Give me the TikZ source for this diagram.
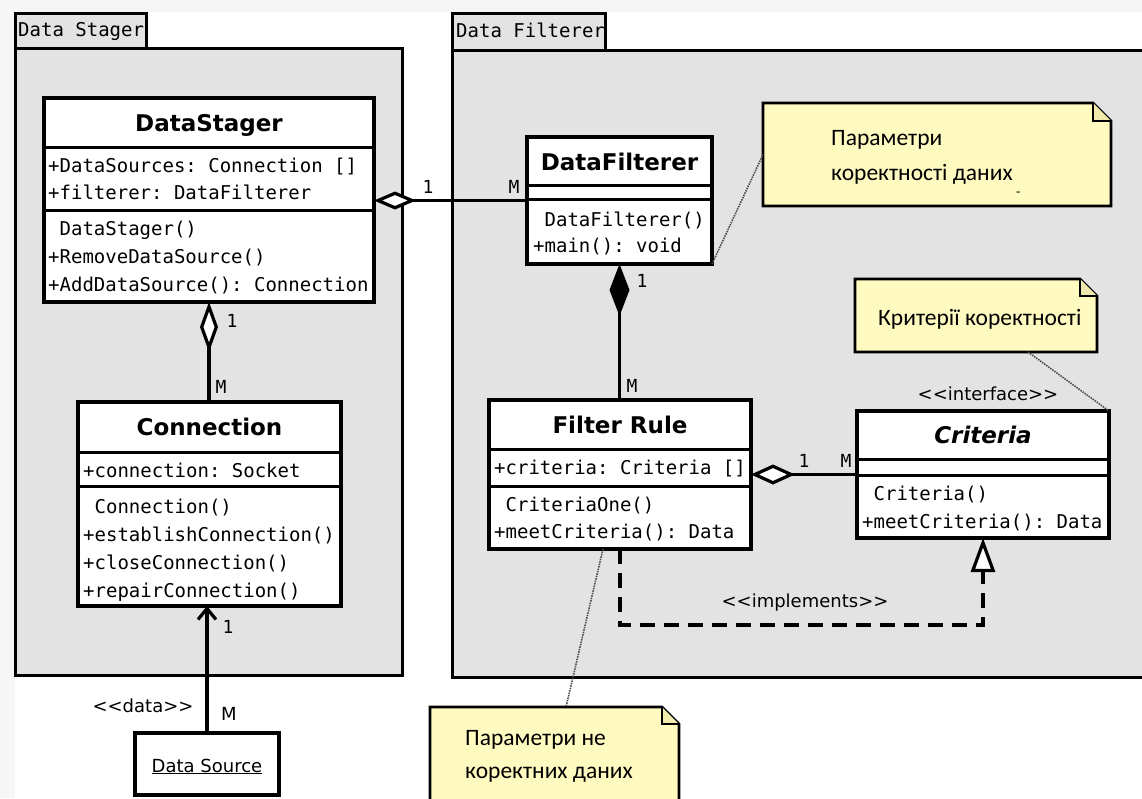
\documentclass[tikz,border=0pt]{standalone}
\usepackage{fontspec}
\setmainfont{DejaVu Sans}
\setmonofont{DejaVu Sans Mono}
\newfontfamily\dvsans{DejaVu Sans}
\newfontfamily\notefont{Carlito}
\usetikzlibrary{arrows.meta}

\definecolor{pkgfill}{RGB}{227,227,227}
\definecolor{notefill}{RGB}{255,250,192}
\definecolor{notefold}{RGB}{240,234,172}
\definecolor{edgegray}{RGB}{246,246,246}

\tikzset{
  pkg/.style={draw=black, line width=3pt, fill=pkgfill, inner sep=0pt, outer sep=0pt},
  classbox/.style={draw=black, line width=3.2pt, fill=white, inner sep=0pt, outer sep=0pt},
  sepline/.style={line width=3pt},
  cname/.style={font=\fontsize{23}{23}\selectfont\bfseries, anchor=base, inner sep=0pt},
  member/.style={font=\fontsize{19}{19}\selectfont\ttfamily, anchor=base west, inner sep=0pt},
  pkglabel/.style={font=\fontsize{19}{19}\selectfont\ttfamily, anchor=base west, inner sep=0pt},
  mult/.style={font=\fontsize{18}{18}\selectfont\ttfamily, anchor=base, inner sep=0pt},
  stereo/.style={font=\dvsans\fontsize{18}{18}\selectfont, anchor=base, inner sep=0pt},
  link/.style={line width=3.2pt},
  notebox/.style={inner sep=0pt, outer sep=0pt},
  noteline/.style={draw=black, line width=2.8pt, fill=notefill, line join=miter},
  notetext/.style={font=\notefont\fontsize{23.5}{23.5}\selectfont, anchor=base west, inner sep=0pt},
  anchorline/.style={line width=1.6pt, draw=black!70, dash pattern=on 1.5pt off 1pt},
}

% UML note outline with a folded top-right corner
\newcommand\drawnotebox[2]{%
  \filldraw[noteline] (#1.south west) -- (#1.north west) -- ([xshift=-#2]#1.north east)
    -- ([yshift=-#2]#1.north east) -- (#1.south east) -- cycle;
  \filldraw[draw=black, fill=notefold, line width=1.3pt] ([xshift=-#2]#1.north east)
    -- ([xshift=-#2,yshift=-#2]#1.north east) -- ([yshift=-#2]#1.north east);
}

\begin{document}
\begin{tikzpicture}[x=1pt,y=-1pt]
\useasboundingbox (0,0) rectangle (1142,798);
\clip (0,0) rectangle (1142,798);
\fill[white] (0,0) rectangle (1142,798);
\fill[edgegray] (0,0) rectangle (1142,12);
\fill[edgegray] (0,0) rectangle (15,798);

% ---------- packages ----------
\node[pkg, minimum width=387pt, minimum height=627pt] (pkgA) at (208.5,361.5) {};
\node[pkg, minimum width=131pt, minimum height=35pt] (pkgAtab) at (80.5,30.5) {};
\begin{scope}
  \clip (pkgAtab.south west) rectangle (pkgAtab.north east);
  \node[pkglabel] (pkgAlbl) at (18,36) {Data Stager};
\end{scope}
\draw[line width=3pt] (pkgAtab.south west) rectangle (pkgAtab.north east);

\node[pkg, minimum width=708pt, minimum height=627pt] (pkgB) at (806,363.5) {};
\node[pkg, minimum width=153pt, minimum height=37pt] (pkgBtab) at (528.5,31.5) {};
\begin{scope}
  \clip (pkgBtab.south west) rectangle (pkgBtab.north east);
  \node[pkglabel] (pkgBlbl) at (456,37) {Data Filterer};
\end{scope}
\draw[line width=3pt] (pkgBtab.south west) rectangle (pkgBtab.north east);

% ---------- notes ----------
\node[notebox, minimum width=348pt, minimum height=103pt] (n1) at (937,154.5) {};
\drawnotebox{n1}{18pt}
\node[notetext] (n1a) at (831,145) {Параметри};
\node[notetext] (n1b) at (831,180) {коректності даних};
\node[notetext, font=\notefont\fontsize{14}{14}\selectfont] (n1c) at (1016,196) {-};

\node[notebox, minimum width=242pt, minimum height=73pt] (n2) at (976,315.5) {};
\drawnotebox{n2}{17pt}
\node[notetext] (n2a) at (878,325) {Критерії коректності};

\node[notebox, minimum width=249pt, minimum height=98pt] (n3) at (554.5,756) {};
\drawnotebox{n3}{17pt}
\node[notetext] (n3a) at (465,745) {Параметри не};
\node[notetext] (n3b) at (465,778) {коректних даних};

% ---------- classes ----------
% DataStager
\node[classbox, minimum width=330pt, minimum height=204pt] (ds) at (209,200) {};
\draw[sepline] ([yshift=-49pt]ds.north west) -- ([yshift=-49pt]ds.north east);
\draw[sepline] ([yshift=-112pt]ds.north west) -- ([yshift=-112pt]ds.north east);
\node[cname] (dsN) at (209,131) {DataStager};
\node[member] (dsA1) at (48,172) {+DataSources: Connection []};
\node[member] (dsA2) at (48,199) {+filterer: DataFilterer};
\node[member] (dsM1) at (48,235) {\hphantom{+}DataStager()};
\node[member] (dsM2) at (48,263) {+RemoveDataSource()};
\node[member] (dsM3) at (48,291) {+AddDataSource(): Connection};

% Connection
\node[classbox, minimum width=263pt, minimum height=204pt] (conn) at (209.5,504) {};
\draw[sepline] ([yshift=-50pt]conn.north west) -- ([yshift=-50pt]conn.north east);
\draw[sepline] ([yshift=-84pt]conn.north west) -- ([yshift=-84pt]conn.north east);
\node[cname] (connN) at (209.5,435) {Connection};
\node[member] (connA1) at (83,477) {+connection: Socket};
\node[member] (connM1) at (83,513) {\hphantom{+}Connection()};
\node[member] (connM2) at (83,541) {+establishConnection()};
\node[member] (connM3) at (83,569) {+closeConnection()};
\node[member] (connM4) at (83,597) {+repairConnection()};

% Data Source object
\node[classbox, minimum width=144pt, minimum height=62pt] (dsrc) at (207,764) {};
\node[stereo] (dsrcN) at (207,772) {\underline{Data Source}};

% DataFilterer
\node[classbox, minimum width=185pt, minimum height=127pt] (df) at (619.5,200.5) {};
\draw[sepline] ([yshift=-48pt]df.north west) -- ([yshift=-48pt]df.north east);
\draw[sepline] ([yshift=-62pt]df.north west) -- ([yshift=-62pt]df.north east);
\node[cname] (dfN) at (619.5,170) {DataFilterer};
\node[member] (dfM1) at (533,226) {\hphantom{+}DataFilterer()};
\node[member] (dfM2) at (533,252) {+main(): void};

% Filter Rule
\node[classbox, minimum width=262pt, minimum height=149pt] (fr) at (620,474.5) {};
\draw[sepline] ([yshift=-49pt]fr.north west) -- ([yshift=-49pt]fr.north east);
\draw[sepline] ([yshift=-86pt]fr.north west) -- ([yshift=-86pt]fr.north east);
\node[cname] (frN) at (620,433) {Filter Rule};
\node[member] (frA1) at (494,474) {+criteria: Criteria []};
\node[member] (frM1) at (494,511) {\hphantom{+}CriteriaOne()};
\node[member] (frM2) at (494,538) {+meetCriteria(): Data};

% Criteria interface
\node[stereo] (crS) at (988,400) {<<interface>>};
\node[classbox, minimum width=252pt, minimum height=127pt] (cr) at (983,474.5) {};
\draw[sepline] ([yshift=-48pt]cr.north west) -- ([yshift=-48pt]cr.north east);
\draw[sepline] ([yshift=-64pt]cr.north west) -- ([yshift=-64pt]cr.north east);
\node[cname, font=\fontsize{23}{23}\selectfont\bfseries\itshape] (crN) at (983,443) {Criteria};
\node[member] (crM1) at (862,500) {\hphantom{+}Criteria()};
\node[member] (crM2) at (862,528) {+meetCriteria(): Data};

% ---------- relations ----------
\draw[link, {Diamond[fill=white, length=42pt, width=18pt]}-] (ds.east |- df.west) -- (df.west);
\node[mult] (m1a) at (428,193) {1};
\node[mult] (m1b) at (514,193) {M};

\draw[link, {Diamond[fill=white, length=50pt, width=18pt]}-] (ds.south) -- (ds.south |- conn.north);
\node[mult] (m2a) at (232,327) {1};
\node[mult] (m2b) at (221,393) {M};

\draw[link, -{Straight Barb[length=11pt, width=18pt]}] (dsrc.north) -- (dsrc.north |- conn.south);
\node[mult] (m3a) at (228,633) {1};
\node[stereo] (m3b) at (229,720) {M};
\node[stereo] (m3s) at (143,712) {<<data>>};

\draw[link, {Diamond[length=52pt, width=20pt]}-] (df.south) -- (df.south |- fr.north);
\node[mult] (m4a) at (642,287) {1};
\node[mult] (m4b) at (632,392) {M};

\draw[link, {Diamond[fill=white, length=44pt, width=20pt]}-] (fr.east |- cr.west) -- (cr.west);
\node[mult] (m5a) at (804,467) {1};
\node[mult] (m5b) at (846,467) {M};

\coordinate (bend) at (0,625);
\draw[link, dash pattern=on 15pt off 9pt, -{Triangle[open, fill=white, length=34pt, width=24pt]}]
  (fr.south) -- (fr.south |- bend) -- (cr.south |- bend) -- (cr.south);
\node[stereo] (implS) at (805,607) {<<implements>>};

% ---------- note anchors ----------
\draw[anchorline] (df.south east) -- (n1.west);
\draw[anchorline] ([xshift=-69pt]n2.south east) -- (cr.north east);
\draw[anchorline] ([xshift=-17pt]fr.south) -- ([xshift=11.5pt]n3.north);
\end{tikzpicture}
\end{document}
